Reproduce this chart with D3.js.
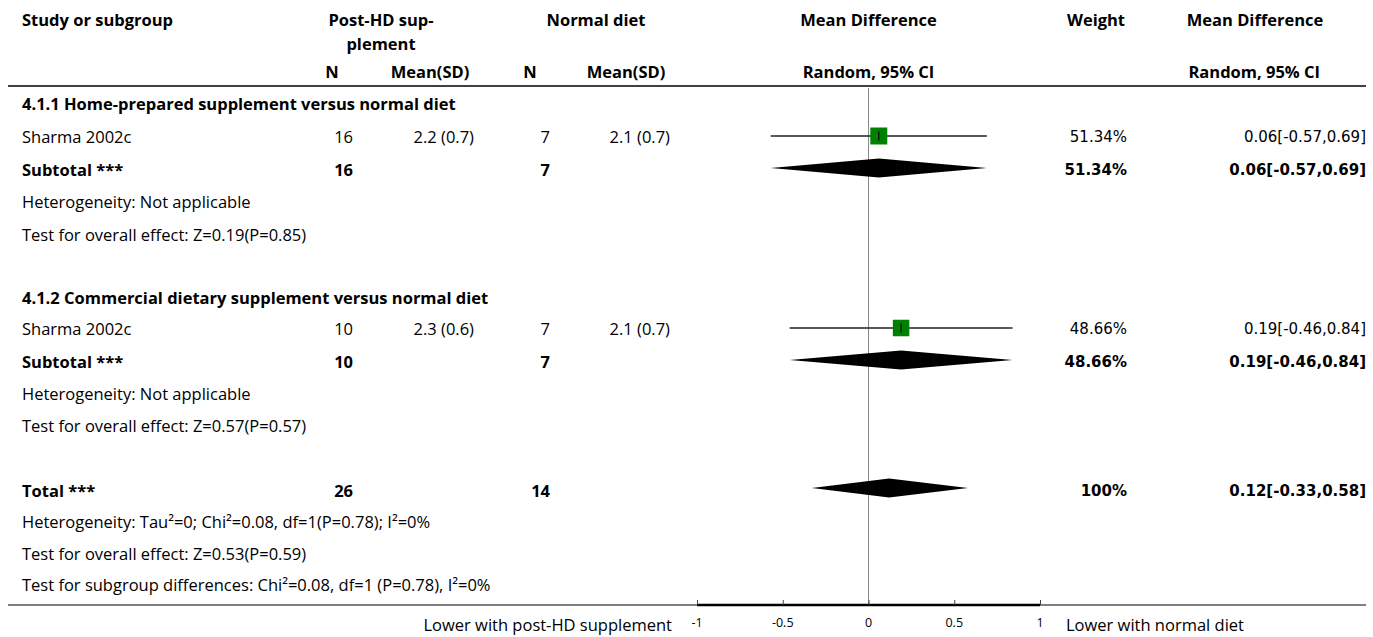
<!DOCTYPE html>
<html>
<head>
<meta charset="utf-8">
<script src="https://cdn.jsdelivr.net/npm/d3@7"></script>
<style>
  body { margin: 0; background: #fff; }
  svg text { font-family: "Open Sans", "Noto Sans", sans-serif; font-size: 16.5px; fill: #000; }
  .b { font-weight: bold; }
  .num { font-family: "DejaVu Sans", sans-serif; font-size: 15px; }
  .tick-lab { font-size: 12.5px; }
</style>
</head>
<body>
<div class="forest-container"></div>
<script>
// data
const subgroupTitles = ['4.1.1 Home-prepared supplement versus normal diet',
                        '4.1.2 Commercial dietary supplement versus normal diet'];
const studyNames = ['Sharma 2002c', 'Sharma 2002c'];
const expN = [16, 10];
const expMeanSD = ['2.2 (0.7)', '2.3 (0.6)'];
const ctrlN = [7, 7];
const ctrlMeanSD = ['2.1 (0.7)', '2.1 (0.7)'];
const md = [0.06, 0.19];
const mdLow = [-0.57, -0.46];
const mdHigh = [0.69, 0.84];
const weights = [51.34, 48.66];
const subHetero = ['Heterogeneity: Not applicable', 'Heterogeneity: Not applicable'];
const subEffect = ['Test for overall effect: Z=0.19(P=0.85)', 'Test for overall effect: Z=0.57(P=0.57)'];
const totalN = [26, 14];
const totalMD = [0.12, -0.33, 0.58];
const totalWeight = '100%';
const totalNotes = ['Heterogeneity: Tau\u00b2=0; Chi\u00b2=0.08, df=1(P=0.78); I\u00b2=0%',
                    'Test for overall effect: Z=0.53(P=0.59)',
                    'Test for subgroup differences: Chi\u00b2=0.08, df=1 (P=0.78), I\u00b2=0%'];
const xTicks = [-1, -0.5, 0, 0.5, 1];
const axisLabels = ['Lower with post-HD supplement', 'Lower with normal diet'];

const fmt = v => d3.format('.2f')(v).replace('−', '-');
const ciText = (m, l, h) => `${fmt(m)}[${fmt(l)},${fmt(h)}]`;

const W = 1373, H = 637;
const svg = d3.select('.forest-container').append('svg')
    .attr('width', W).attr('height', H);

// x scale for the plot
const xScale = d3.scaleLinear().domain([-1, 1]).range([697, 1040]);
const sqSize = d3.scaleSqrt().domain([0, 100]).range([0, 23.7]);

// row positions (text centres)
const rowKeys = ['g0', 's0', 't0', 'h0', 'e0', 'g1', 's1', 't1', 'h1', 'e1', 'T', 'n0', 'n1', 'n2'];
const rowYs   = [104, 137, 170, 202, 235, 298, 329, 362, 394, 426, 491, 522, 554, 585];
const yRow = d3.scaleOrdinal().domain(rowKeys).range(rowYs);

// column positions
const col = {label: 22, expN: 353, expM: 474, ctrlN: 550, ctrlM: 670, weight: 1127, ci: 1366};

function txt(x, y, s, anchor, cls) {
  return svg.append('text')
    .attr('x', x).attr('y', y)
    .attr('dy', '0.35em')
    .attr('text-anchor', anchor || 'start')
    .attr('class', cls || null)
    .text(s);
}

// header
txt(22, 20, 'Study or subgroup', 'start', 'b');
txt(381, 20, 'Post-HD sup-', 'middle', 'b');
txt(381, 44, 'plement', 'middle', 'b');
txt(596, 20, 'Normal diet', 'middle', 'b');
txt(xScale(0), 20, 'Mean Difference', 'middle', 'b');
txt(1096, 20, 'Weight', 'middle', 'b');
txt(1255, 20, 'Mean Difference', 'middle', 'b');
txt(332, 72, 'N', 'middle', 'b');
txt(430, 72, 'Mean(SD)', 'middle', 'b');
txt(530, 72, 'N', 'middle', 'b');
txt(626, 72, 'Mean(SD)', 'middle', 'b');
txt(xScale(0), 72, 'Random, 95% CI', 'middle', 'b');
txt(1320, 72, 'Random, 95% CI', 'end', 'b');

svg.append('line').attr('x1', 8).attr('x2', 1366).attr('y1', 86).attr('y2', 86)
  .attr('stroke', '#000').attr('stroke-width', 1.5);

// zero line
svg.append('line')
  .attr('x1', xScale(0)).attr('x2', xScale(0)).attr('y1', 88).attr('y2', 605)
  .attr('stroke', '#888').attr('stroke-width', 1);

function diamond(y, m, l, h, hh) {
  const pts = [[xScale(l), y], [xScale(m), y - hh], [xScale(h), y], [xScale(m), y + hh]];
  svg.append('path').attr('d', 'M' + pts.join('L') + 'Z').attr('fill', '#000');
}

// subgroups
subgroupTitles.forEach((title, i) => {
  const yg = yRow('g' + i), ys = yRow('s' + i), yt = yRow('t' + i);
  txt(col.label, yg, title, 'start', 'b');
  // study row
  txt(col.label, ys, studyNames[i]);
  txt(col.expN, ys, expN[i], 'end');
  txt(col.expM, ys, expMeanSD[i], 'end');
  txt(col.ctrlN, ys, ctrlN[i], 'end');
  txt(col.ctrlM, ys, ctrlMeanSD[i], 'end');
  txt(col.weight, ys, d3.format('.2f')(weights[i]) + '%', 'end', 'num');
  txt(col.ci, ys, ciText(md[i], mdLow[i], mdHigh[i]), 'end', 'num');
  const my = ys - 1;
  svg.append('line')
    .attr('x1', xScale(mdLow[i])).attr('x2', xScale(mdHigh[i]))
    .attr('y1', my).attr('y2', my)
    .attr('stroke', '#222').attr('stroke-width', 1.3);
  const s = sqSize(weights[i]);
  svg.append('rect')
    .attr('x', xScale(md[i]) - s / 2).attr('y', my - s / 2)
    .attr('width', s).attr('height', s)
    .attr('fill', '#008000');
  svg.append('line')
    .attr('x1', xScale(md[i])).attr('x2', xScale(md[i]))
    .attr('y1', my - 4.5).attr('y2', my + 4.5)
    .attr('stroke', '#111').attr('stroke-width', 1.3);
  // subtotal
  txt(col.label, yt, 'Subtotal ***', 'start', 'b');
  txt(col.expN, yt, expN[i], 'end', 'b');
  txt(col.ctrlN, yt, ctrlN[i], 'end', 'b');
  txt(col.weight, yt, d3.format('.2f')(weights[i]) + '%', 'end', 'num b');
  txt(col.ci, yt, ciText(md[i], mdLow[i], mdHigh[i]), 'end', 'num b');
  diamond(yt - 2, md[i], mdLow[i], mdHigh[i], 9.5);
  txt(col.label, yRow('h' + i), subHetero[i]);
  txt(col.label, yRow('e' + i), subEffect[i]);
});

// total
const yT = yRow('T');
txt(col.label, yT, 'Total ***', 'start', 'b');
txt(col.expN, yT, totalN[0], 'end', 'b');
txt(col.ctrlN, yT, totalN[1], 'end', 'b');
txt(col.weight, yT, totalWeight, 'end', 'num b');
txt(col.ci, yT, ciText(totalMD[0], totalMD[1], totalMD[2]), 'end', 'num b');
diamond(yT - 3, totalMD[0], totalMD[1], totalMD[2], 9.5);
totalNotes.forEach((n, i) => txt(col.label, yRow('n' + i), n));

// bottom rule + axis
svg.append('line').attr('x1', 8).attr('x2', 1366).attr('y1', 605).attr('y2', 605)
  .attr('stroke', '#000').attr('stroke-width', 1.2);
const xAxis = d3.axisTop(xScale).tickValues(xTicks).tickSize(5).tickFormat('');
const axisG = svg.append('g').attr('transform', 'translate(0,605)').call(xAxis);
axisG.select('.domain').attr('stroke-width', 2.5).attr('d', `M${xScale(-1)},0H${xScale(1)}`);
axisG.selectAll('.tick line').attr('stroke', '#444');
xTicks.forEach(t => txt(xScale(t), 623, d3.format('')(t).replace('−', '-'), 'middle', 'tick-lab'));
txt(672, 625, axisLabels[0], 'end');
txt(1066, 625, axisLabels[1], 'start');
</script>
</body>
</html>
